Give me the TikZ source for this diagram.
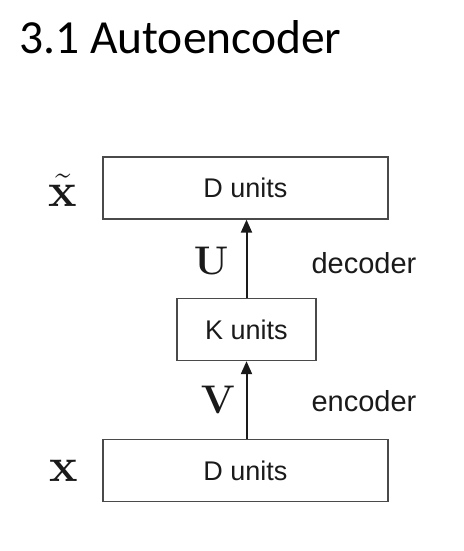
\RequirePackage{fix-cm}
\documentclass[tikz,border=0pt]{standalone}
\usepackage{amsmath}
\usepackage[no-math]{fontspec}
\setmainfont{Liberation Sans}
\newfontfamily\titlefont{Carlito}
\usetikzlibrary{positioning,arrows.meta}
\definecolor{cline}{HTML}{4A4A4A}
\definecolor{ctext}{HTML}{1A1A1A}
\tikzset{
  unitbox/.style={draw=cline, line width=1.3pt, minimum height=62pt,
    inner sep=0pt, font=\fontsize{27}{31}\selectfont, text=ctext},
  widebox/.style={unitbox, minimum width=285pt},
  narrowbox/.style={unitbox, minimum width=139pt},
  maparrow/.style={-{Triangle[length=13pt,width=11pt]}, line width=2pt, color=ctext},
  veclabel/.style={font=\fontsize{40}{44}\selectfont, text=ctext, inner sep=0pt},
  inlabel/.style={font=\fontsize{48}{52}\selectfont, text=ctext, inner sep=0pt},
  partlabel/.style={font=\fontsize{29}{33}\selectfont, text=ctext, inner sep=0pt}
}
\begin{document}
\begin{tikzpicture}[x=1pt, y=-1pt]
  \useasboundingbox (0,0) rectangle (463,551);
  \node[anchor=base west, inner sep=0pt, font=\titlefont\fontsize{47.5}{52}\selectfont]
    (title) at (19,53) {3.1 Autoencoder};

  \node[widebox] (dtop) at (245.5,188) {D units};
  \node[narrowbox] (kmid) at (246.5,329.5) {K units};
  \node[widebox] (dbot) at (245.5,470.5) {D units};

  \node[inlabel, left=25pt of dtop, yshift=-2pt] (xrec) {$\tilde{\mathbf{x}}$};
  \node[inlabel, left=24pt of dbot] (xin) {$\mathbf{x}$};

  \draw[maparrow] (kmid.north) -- (kmid.north |- dtop.south)
    node[veclabel, midway, left=17pt, yshift=-2pt] (wu) {$\mathbf{U}$}
    node[partlabel, midway, anchor=west, xshift=64pt, yshift=-4.5pt] (dec) {decoder};
  \draw[maparrow] (dbot.north -| kmid.north) -- (kmid.south)
    node[veclabel, midway, left=10pt] (wv) {$\mathbf{V}$}
    node[partlabel, midway, anchor=west, xshift=64pt, yshift=-1pt] (enc) {encoder};
\end{tikzpicture}
\end{document}
